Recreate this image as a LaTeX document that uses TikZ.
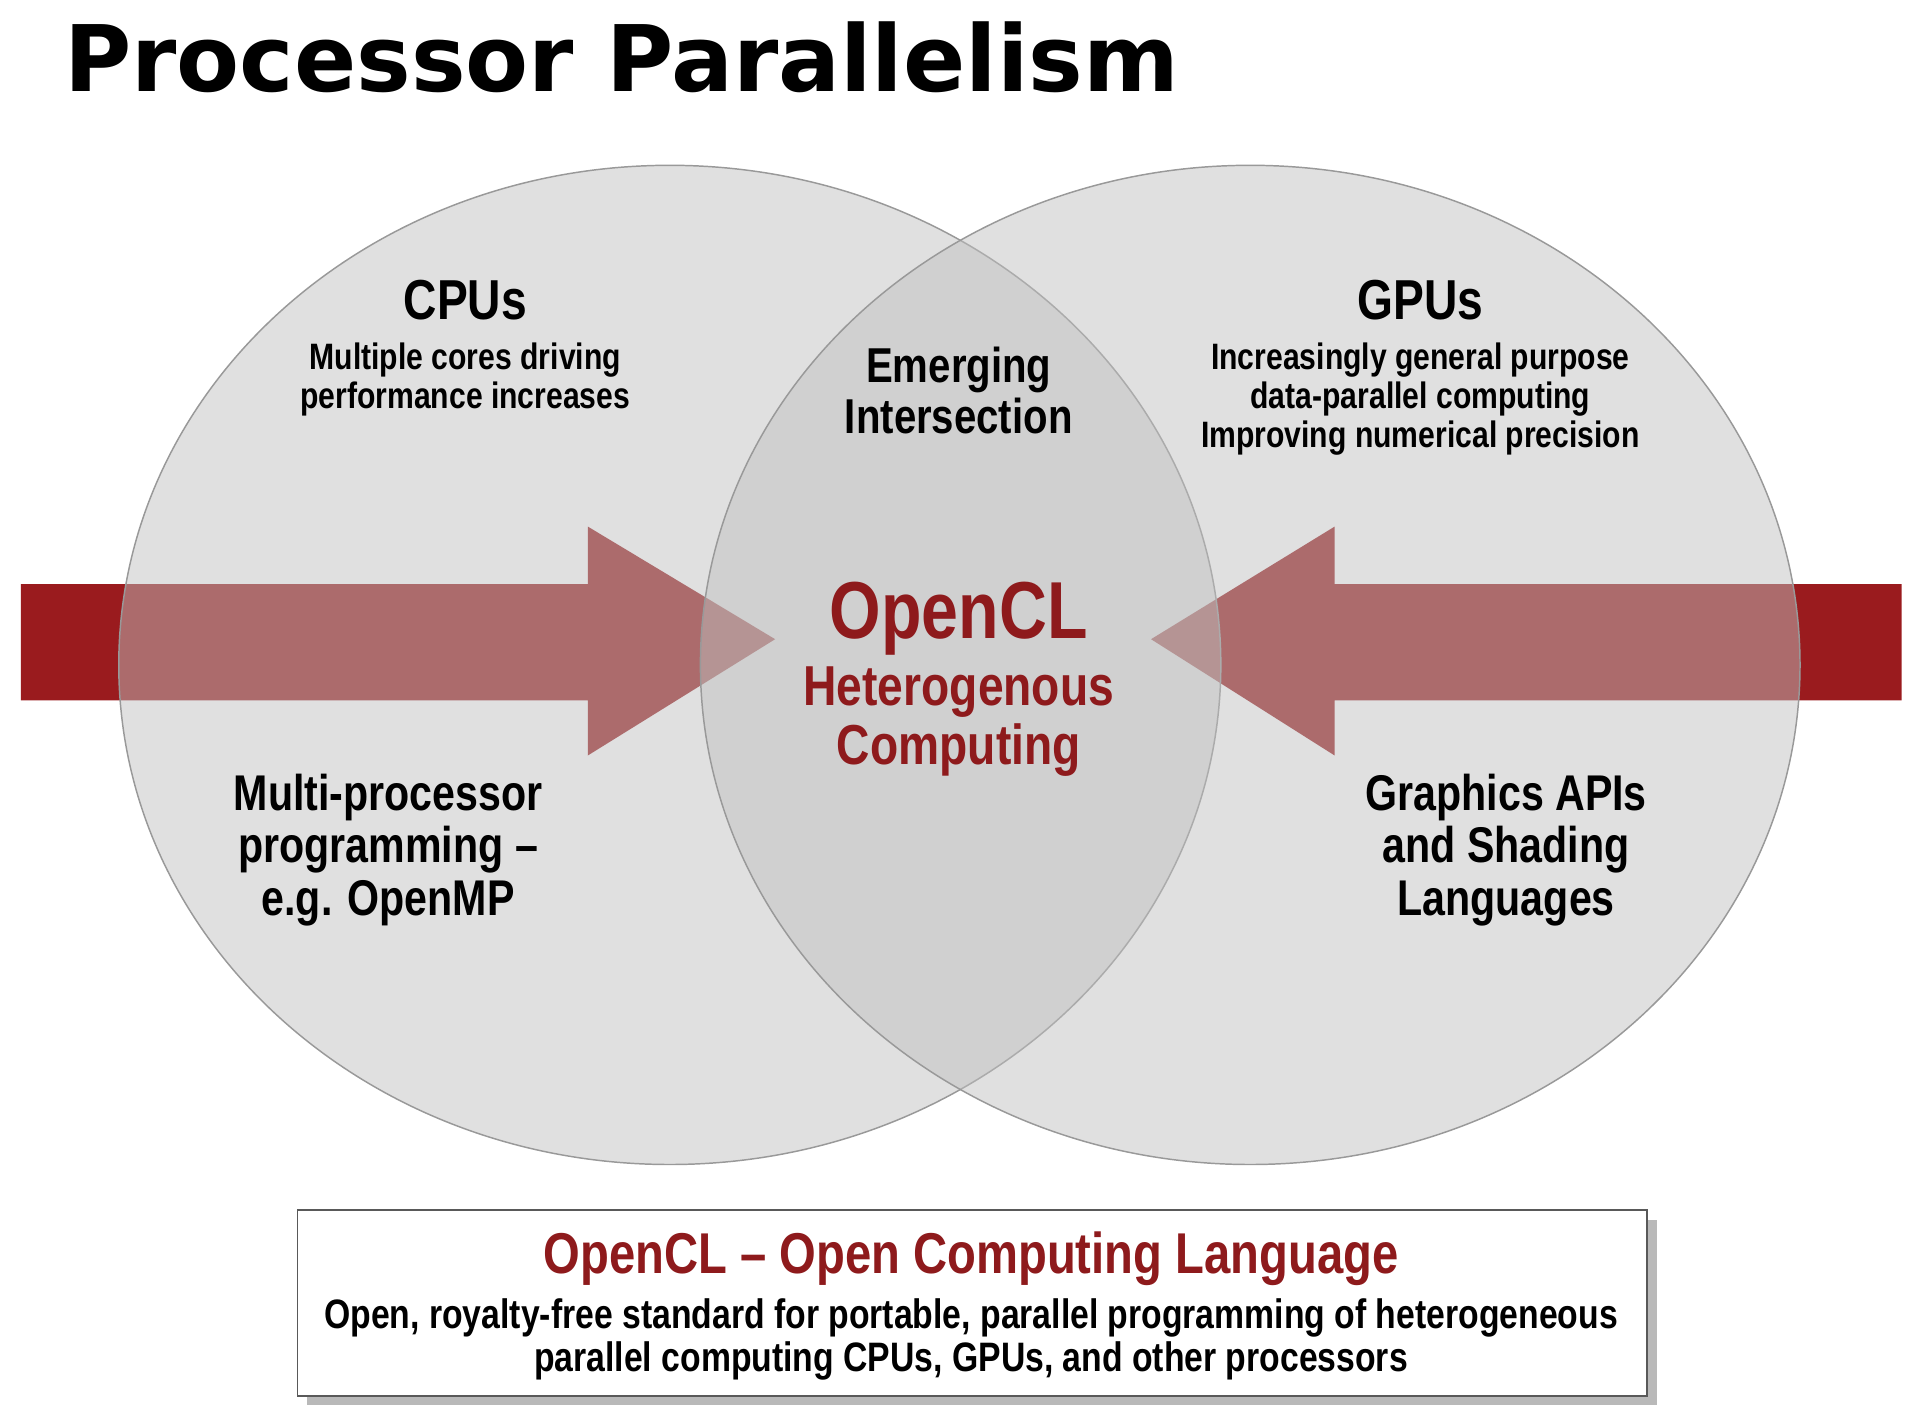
\documentclass[tikz,border=0pt]{standalone}
\usepackage{fontspec}
\setmainfont{Liberation Sans}
\newfontfamily\cond[FakeStretch=0.82,Ligatures=TeX]{Liberation Sans}
\newfontfamily\titlefont{DejaVu Sans}
\definecolor{dred}{HTML}{9A1B1E}
\definecolor{tred}{HTML}{8E1A1C}
\definecolor{cgray}{gray}{0.75}
\begin{document}
\begin{tikzpicture}[x=0.5pt,y=-0.5pt,
  circ/.style={fill=cgray,fill opacity=0.49,draw=gray!80,line width=0.6pt},
  arr/.style={fill=dred,draw=none},
  lbl/.style={align=center,font=\cond\bfseries\fontsize{#1}{#1}\selectfont,inner sep=0pt},
  lbl/.default=12]
\useasboundingbox (0,0) rectangle (1568,1147);
\node[anchor=base west,inner sep=0pt,font=\titlefont\bfseries\fontsize{37.5}{37.5}\selectfont] (title) at (52,75) {Processor Parallelism};
% arrows
\path[arr] (17,477) -- (480,477) -- (480,430) -- (633,522) -- (480,617) -- (480,572) -- (17,572) -- cycle;
\path[arr] (1553,477) -- (1090,477) -- (1090,430) -- (940,522) -- (1090,617) -- (1090,572) -- (1553,572) -- cycle;
% circles
\path[circ] (547,543) ellipse [x radius=450,y radius=408];
\path[circ] (1021,543) ellipse [x radius=449,y radius=408];
\node (cpu) [lbl=23] at (380,245) {CPUs};
\node (cpud) [lbl=15] at (380,310) {Multiple cores driving\\[1pt]performance increases};
\node (gpu) [lbl=23] at (1160,245) {GPUs};
\node (gpud) [lbl=15] at (1160,326) {Increasingly general purpose\\[1pt]data-parallel computing\\[1pt]Improving numerical precision};
\node (emer) [lbl=20] at (783,319) {Emerging\\[1pt]Intersection};
\node (ocl) [lbl=33,text=tred] at (783,505) {OpenCL};
\node (het) [lbl=23,text=tred] at (783,589) {Heterogenous\\[1pt]Computing};
\node (mp) [lbl=20.5] at (317,694) {Multi-processor\\[1pt]programming –\\[1pt]e.g. OpenMP};
\node (gr) [lbl=20.5] at (1230,694) {Graphics APIs\\[1pt]and Shading\\[1pt]Languages};
% box
\fill[gray!55] (251,996) rectangle (1353,1148);
\draw[fill=white,draw=gray!70!black,line width=0.6pt] (243,988) rectangle (1345,1140);
\node (bt) [lbl=23.5,text=tred] at (793,1028) {OpenCL – Open Computing Language};
\node (bd) [lbl=16.8] at (793,1094) {Open, royalty-free standard for portable, parallel programming of heterogeneous\\[1pt]parallel computing CPUs, GPUs, and other processors};
\end{tikzpicture}
\end{document}
